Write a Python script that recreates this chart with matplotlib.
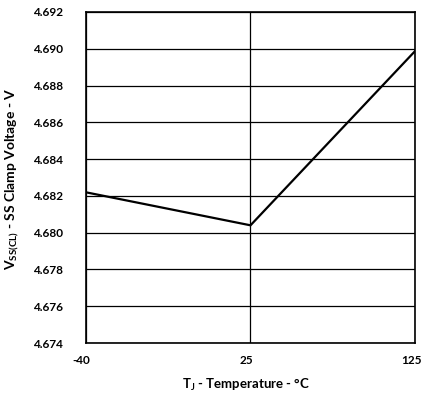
import matplotlib
matplotlib.use("Agg")
import matplotlib.pyplot as plt
from matplotlib.transforms import ScaledTranslation

temps = ["-40", "25", "125"]
voltage = [4.6822, 4.6804, 4.6899]
yticks = [4.674, 4.676, 4.678, 4.680, 4.682, 4.684, 4.686, 4.688, 4.690, 4.692]

plt.rcParams['font.family'] = ['Lato', 'DejaVu Sans']
plt.rcParams['mathtext.fontset'] = 'custom'
plt.rcParams['mathtext.rm'] = 'Lato:bold'
plt.rcParams['mathtext.it'] = 'Lato:bold'
plt.rcParams['mathtext.bf'] = 'Lato:bold'

W, H = 422, 393
fig = plt.figure(figsize=(W / 100, H / 100), dpi=100)
ax = fig.add_axes([85.5 / W, 1 - 343 / H, 330 / W, 331 / H])
x = list(range(len(temps)))
ax.plot(x, voltage, color='black', lw=1.6, solid_joinstyle='miter')
ax.set_xlim(0, len(temps) - 1)
ax.set_ylim(yticks[0], yticks[-1])
ax.set_xticks(x)
ax.set_xticklabels(temps)
ax.set_yticks(yticks)
ax.set_yticklabels([f"{v:.3f}" for v in yticks])
ax.grid(True, color='black', lw=0.9)
ax.set_axisbelow(True)
for s in ax.spines.values():
    s.set_linewidth(1.2)
ax.tick_params(length=0, labelsize=8.5)
ax.tick_params(axis='x', pad=9)
ax.tick_params(axis='y', pad=16)
for lab in ax.get_xticklabels() + ax.get_yticklabels():
    lab.set_fontweight('bold')
shift = ScaledTranslation(-4 / 100, 0, fig.dpi_scale_trans)
for lab in ax.get_xticklabels():
    lab.set_transform(lab.get_transform() + shift)

fig.text(246.5 / W, 1 - 385 / H, r"T$_{\mathregular{J}}$ - Temperature - °C",
         fontsize=9.5, fontweight='bold', ha='center', va='center')
fig.text(12 / W, 1 - 179 / H, r"V$_{\mathregular{SS(CL)}}$ - SS Clamp Voltage - V",
         fontsize=10, fontweight='bold', ha='center', va='center', rotation=90)
fig.savefig("out.png", dpi=100)
